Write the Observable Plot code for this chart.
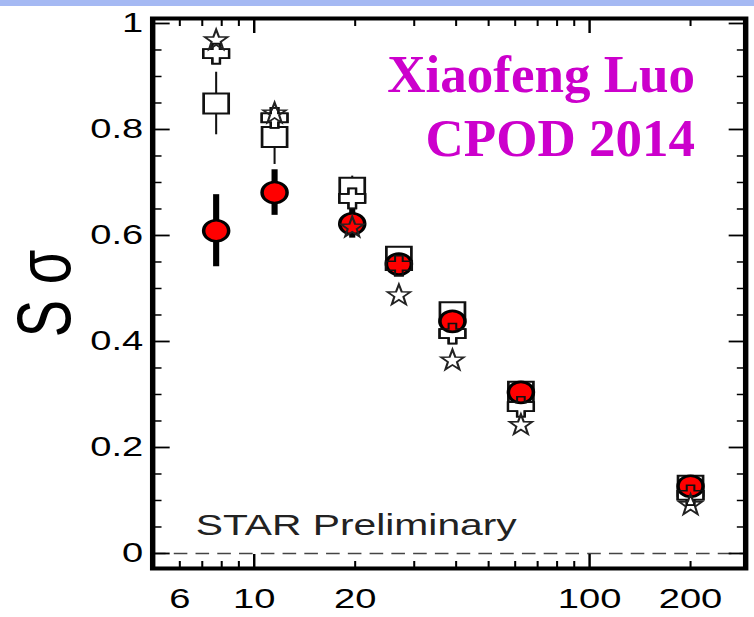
<!DOCTYPE html>
<html><head><meta charset="utf-8">
<script src="https://cdn.jsdelivr.net/npm/d3@7"></script>
<script src="https://cdn.jsdelivr.net/npm/@observablehq/plot@0.6"></script>
<style>
html,body{margin:0;padding:0;background:#fff;}
#wrap{position:relative;width:754px;height:617px;overflow:hidden;background:#fff;}
#bar{position:absolute;left:0;top:0;width:754px;height:6px;background:#a5b9f3;}
#chart{position:absolute;left:0;top:0;transform-origin:0 0;transform:scaleX(1.36);}
#note{position:absolute;right:59px;top:42px;font:bold 53px/64px "Liberation Serif","Times New Roman",serif;color:#cc00cc;text-align:right;white-space:nowrap;}
</style></head><body>
<div id="wrap"><div id="chart"></div><div id="bar"></div><div id="note">Xiaofeng Luo<br>CPOD 2014</div></div>
<script>
// ---- data ----
const energy      = [7.7, 11.5, 19.6, 27, 39, 62.4, 200];
const sigmaRed    = [0.609, 0.681, 0.622, 0.546, 0.438, 0.304, 0.127];
const errRed      = [0.068, 0.043, 0.027, 0.013, 0.012, 0.010, 0.008];
const sigmaSquare = [0.849, 0.786, 0.690, 0.560, 0.455, 0.305, 0.128];
const errSquare   = [0.059, 0.052, 0.022, 0.010, 0.012, 0.012, 0.010];
const sigmaCross  = [0.943, 0.822, 0.670, 0.543, 0.415, 0.277, 0.110];
const sigmaStar   = [0.968, 0.830, 0.615, 0.487, 0.364, 0.242, 0.091];

const xMajor  = [10, 100];
const xMinor  = [6, 7, 8, 9, 20, 30, 40, 50, 60, 70, 80, 90, 200];
const xLabels = [6, 10, 20, 100, 200];
const yMajor  = [0, 0.2, 0.4, 0.6, 0.8, 1];
const yMinor  = [0.05, 0.1, 0.15, 0.25, 0.3, 0.35, 0.45, 0.5, 0.55, 0.65, 0.7, 0.75, 0.85, 0.9, 0.95];
const yLabels = [0, 0.2, 0.4, 0.6, 0.8, 1];

const rows = energy.map((e, i) => ({
  e, red: sigmaRed[i], er: errRed[i], sq: sigmaSquare[i], es: errSquare[i],
  cr: sigmaCross[i], st: sigmaStar[i]
}));

const SX = 1.36;
const W = 754 / SX;

// custom marker shapes (internal units, horizontally stretched by SX)
const ellipseSym = {draw(ctx) {
  const rx = 9.2, ry = 10.5, k = 0.5523;
  ctx.moveTo(rx, 0);
  ctx.bezierCurveTo(rx, ry * k, rx * k, ry, 0, ry);
  ctx.bezierCurveTo(-rx * k, ry, -rx, ry * k, -rx, 0);
  ctx.bezierCurveTo(-rx, -ry * k, -rx * k, -ry, 0, -ry);
  ctx.bezierCurveTo(rx * k, -ry, rx, -ry * k, rx, 0);
  ctx.closePath();
}};
const rectSym = {draw(ctx) { ctx.rect(-9.2, -10, 18.4, 20); }};
const crossSym = {draw(ctx) {
  const a = 9.5, t = 4.5, v = 2.8, h = 10;
  const p = [[-v,-h],[v,-h],[v,-t],[a,-t],[a,t],[v,t],[v,h],[-v,h],[-v,t],[-a,t],[-a,-t],[-v,-t]];
  ctx.moveTo(p[0][0], p[0][1]);
  for (let i = 1; i < p.length; i++) ctx.lineTo(p[i][0], p[i][1]);
  ctx.closePath();
}};
const starSym = {draw(ctx) {
  const R = 11, r = R * 0.40;
  for (let i = 0; i < 10; i++) {
    const rad = i % 2 ? r : R, ang = -Math.PI / 2 + i * Math.PI / 5;
    const x = Math.cos(ang) * rad * 0.8, y = Math.sin(ang) * rad;
    if (i === 0) ctx.moveTo(x, y); else ctx.lineTo(x, y);
  }
  ctx.closePath();
}};

const fmt = d => String(d);

const chart = Plot.plot({
  width: W, height: 617,
  marginLeft: 152 / SX, marginRight: 9 / SX, marginTop: 18, marginBottom: 49,
  x: {type: "log", domain: [4.98, 292]},
  y: {domain: [-0.0283, 1.0094]},
  style: {fontFamily: "'Liberation Sans', Arial, sans-serif", fontSize: "28px", color: "#000", background: "transparent", overflow: "visible"},
  marks: [
    Plot.ruleY([0], {stroke: "#444", strokeWidth: 1.6, strokeDasharray: "10,6"}),
    // open squares with thin error bars
    Plot.ruleX(rows, {x: "e", y1: d => d.sq - d.es, y2: d => d.sq + d.es, stroke: "#111", strokeWidth: 1.5}),
    Plot.dot(rows, {x: "e", y: "sq", symbol: rectSym, r: 10, fill: "white", stroke: "#111", strokeWidth: 2}),
    Plot.dot(rows, {x: "e", y: "cr", symbol: crossSym, r: 10, fill: "white", stroke: "#111", strokeWidth: 1.8}),
    // red circles with thick error bars
    Plot.ruleX(rows, {x: "e", y1: d => d.red - d.er, y2: d => d.red + d.er, stroke: "#000", strokeWidth: 4.5}),
    Plot.dot(rows, {x: "e", y: "red", symbol: ellipseSym, r: 10, fill: "#ff0000", stroke: "#000", strokeWidth: 2.6}),
    Plot.dot(rows, {x: "e", y: "cr", symbol: crossSym, r: 10, fill: "none", stroke: "#111", strokeWidth: 1.5}),
    // open stars
    Plot.dot(rows, {x: "e", y: "st", symbol: starSym, r: 10, fill: "none", stroke: "#222", strokeWidth: 1.6}),
    // frame and inward ticks
    Plot.frame({stroke: "#000", strokeWidth: 4}),
    Plot.axisY(yMajor, {anchor: "left", tickSize: -13, strokeWidth: 1.8, fill: "none", label: null}),
    Plot.axisY(yMinor, {anchor: "left", tickSize: -7, strokeWidth: 1.5, fill: "none", label: null}),
    Plot.axisY(yMajor, {anchor: "right", tickSize: -13, strokeWidth: 1.8, fill: "none", label: null}),
    Plot.axisY(yMinor, {anchor: "right", tickSize: -7, strokeWidth: 1.5, fill: "none", label: null}),
    Plot.axisX(xMajor, {anchor: "bottom", tickSize: -14, strokeWidth: 1.8, fill: "none", label: null}),
    Plot.axisX(xMinor, {anchor: "bottom", tickSize: -7, strokeWidth: 1.5, fill: "none", label: null}),
    Plot.axisX(xMajor, {anchor: "top", tickSize: -14, strokeWidth: 1.8, fill: "none", label: null}),
    Plot.axisX(xMinor, {anchor: "top", tickSize: -7, strokeWidth: 1.5, fill: "none", label: null}),
    // tick labels
    Plot.axisY(yLabels, {anchor: "left", tickSize: 0, tickPadding: 7, tickFormat: fmt, label: null, fontSize: 28}),
    Plot.text(xLabels, {x: d => d, text: fmt, frameAnchor: "bottom", lineAnchor: "top", textAnchor: "middle", dy: 20, fontSize: 28, fill: "#000"}),
    // texts
    Plot.text(["STAR Preliminary"], {frameAnchor: "bottom-left", textAnchor: "start", lineAnchor: "bottom", dx: (195 - 152) / SX, dy: -33, fontSize: 30, fill: "#222"}),
    Plot.text(["S σ"], {frameAnchor: "left", rotate: -90, textAnchor: "middle", lineAnchor: "middle", dx: -(152 - 45) / SX, fontSize: 56, fill: "#000"})
  ]
});
document.getElementById("chart").appendChild(chart);
</script>
</body></html>
